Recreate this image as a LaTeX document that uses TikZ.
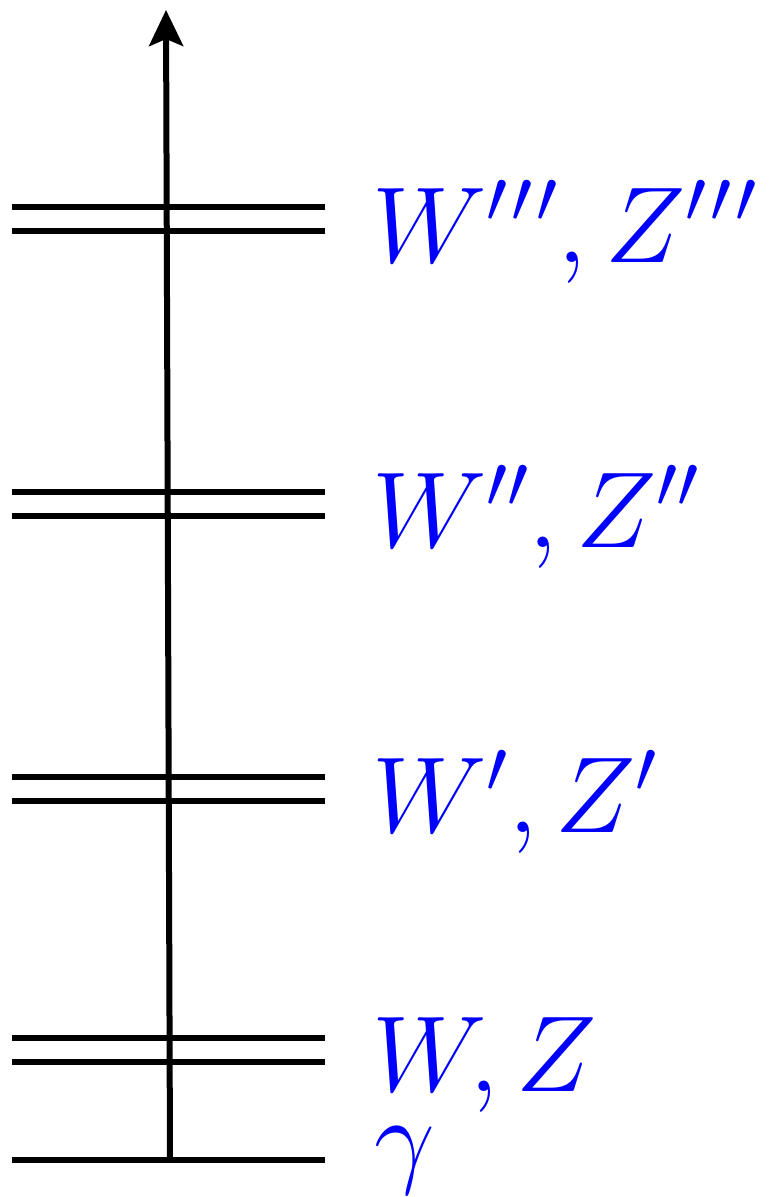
\documentclass[tikz,border=0pt]{standalone}
\usepackage{fix-cm}
\usetikzlibrary{arrows.meta}
\tikzset{
  level/.style={line width=6pt},
  lab/.style={anchor=base west, inner sep=0pt, text=blue, font=\fontsize{108}{130}\selectfont},
  axis/.style={line width=6pt, -{Stealth[length=36pt,width=34pt,inset=7pt]}}
}
\begin{document}
\begin{tikzpicture}[x=1pt,y=-1pt]
\useasboundingbox (0,0) rectangle (771,1197);
% levels
\foreach \yy in {207,231,492,516,777,801,1038,1062,1160}{
  \draw[level] (12,\yy) -- (325,\yy);
}
% axis
\coordinate (base) at (170,1160);
\coordinate (tip) at (166,10);
\draw[axis] (base) -- (tip);
% labels
\node[lab] (l4) at (372,262) {$W^{\prime\mkern1mu\prime\mkern1mu\prime}, Z^{\prime\mkern1mu\prime\mkern1mu\prime}$};
\node[lab] (l3) at (372,547) {$W'', Z''$};
\node[lab] (l2) at (372,832) {$W', Z'$};
\node[lab] (l1) at (372,1091) {$W, Z$};
\node[lab] (l0) at (374,1173) {$\gamma$};
\end{tikzpicture}
\end{document}
